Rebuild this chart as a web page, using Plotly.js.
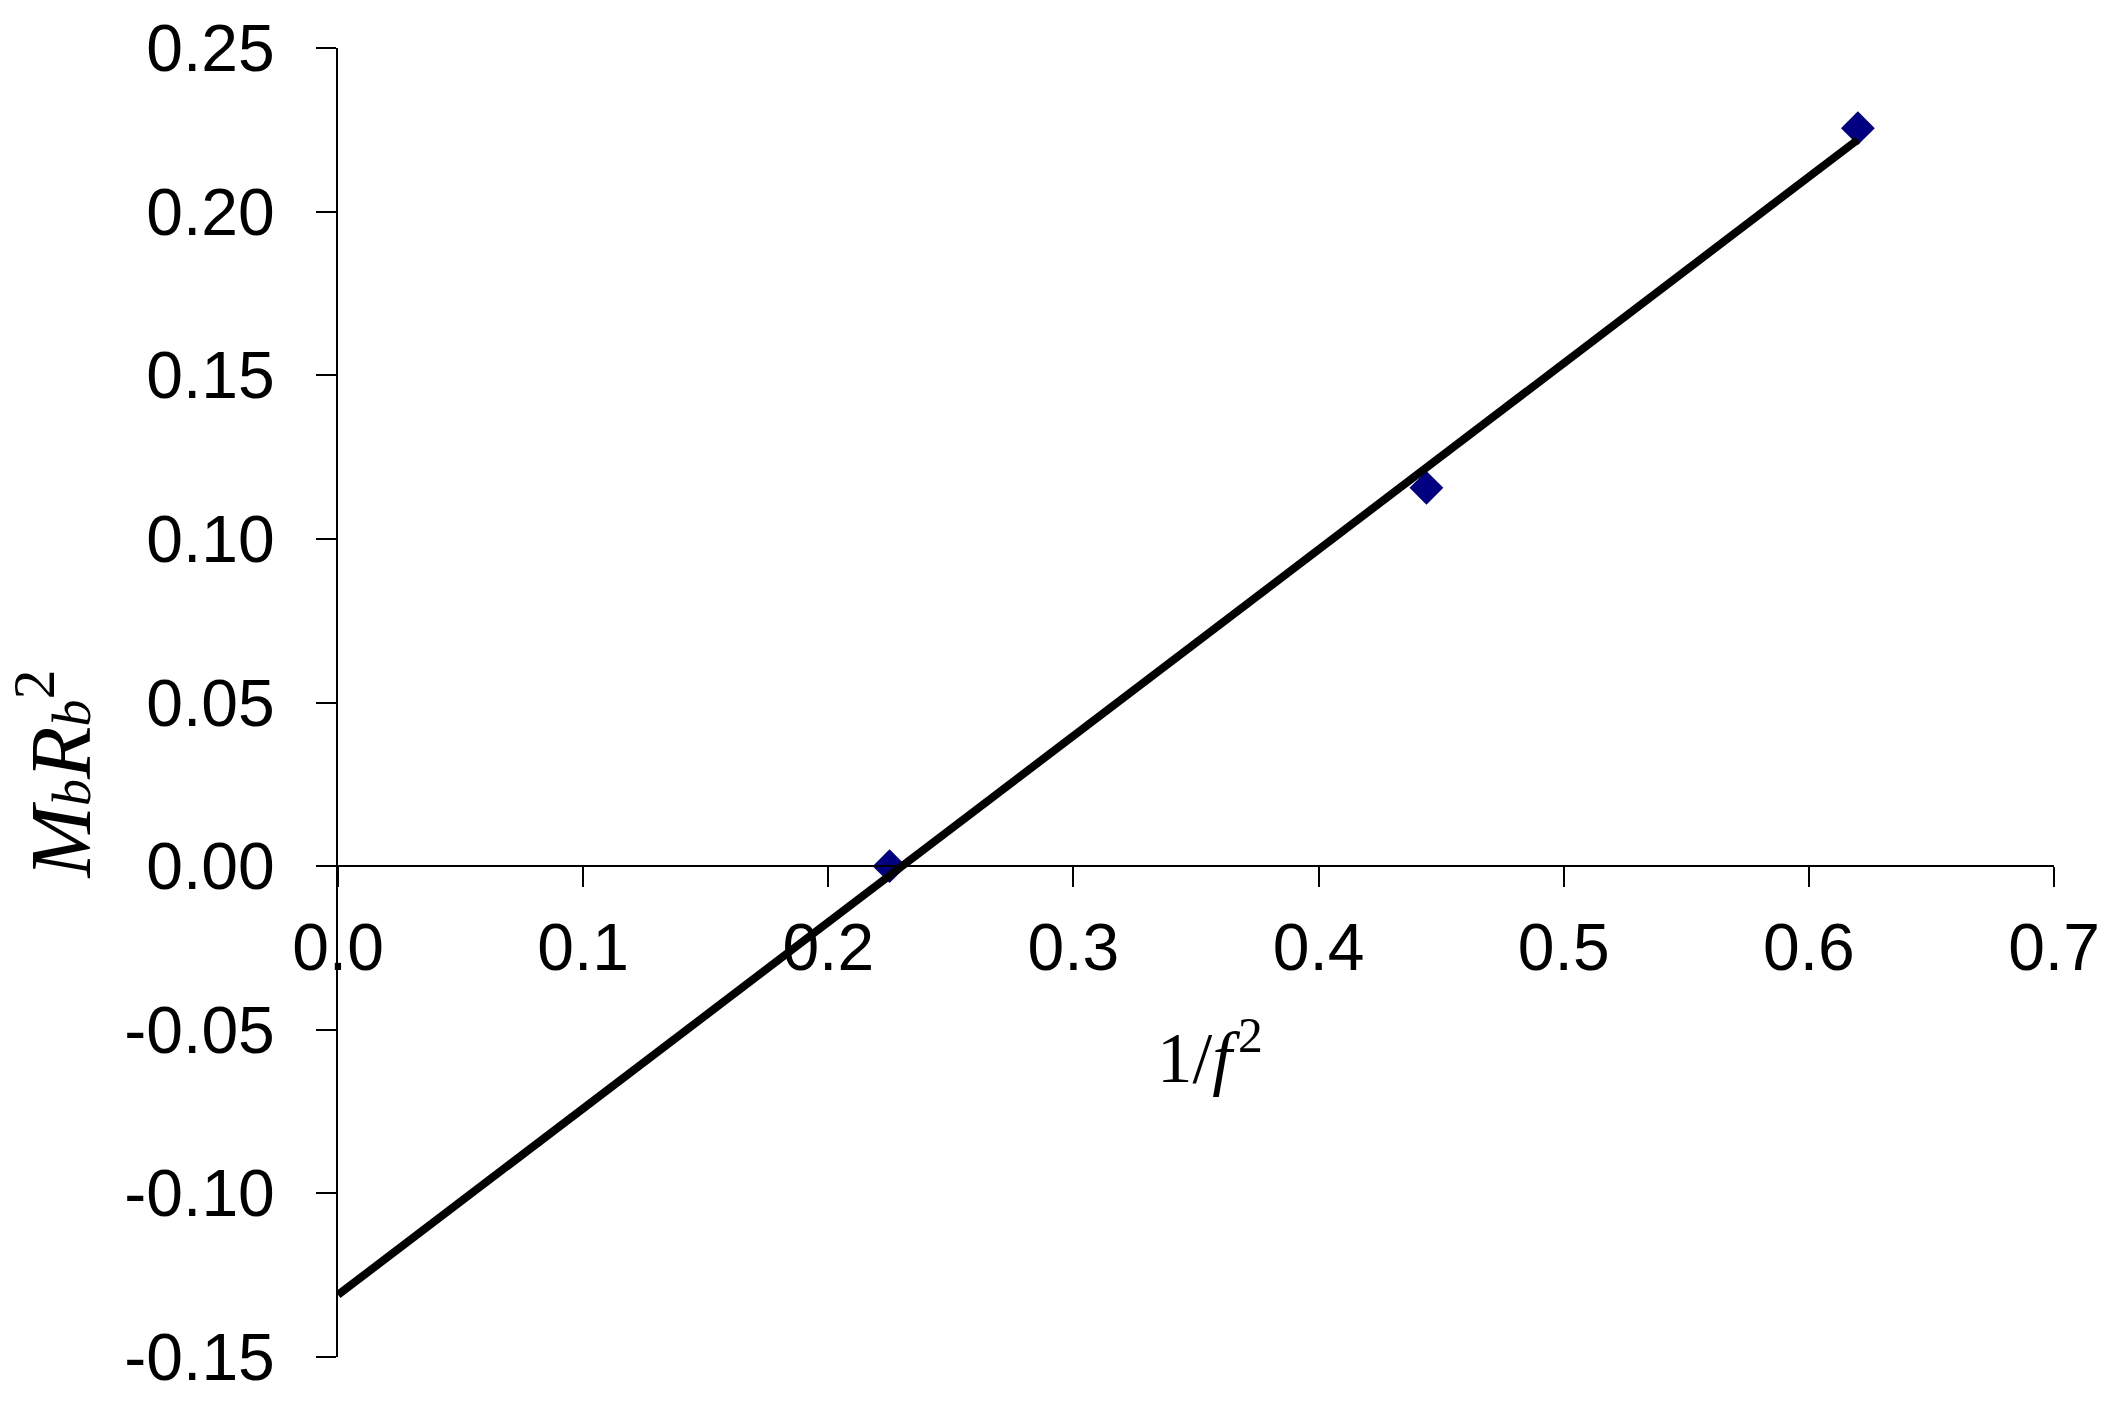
<!DOCTYPE html>
<html>
<head>
<meta charset="utf-8">
<script src="https://cdn.plot.ly/plotly-3.0.1.min.js"></script>
<style>
  html, body { margin: 0; padding: 0; background: #ffffff; }
  #plot { width: 2119px; height: 1412px; }
</style>
</head>
<body>
<div id="plot"></div>
<script>
// measured points, x = 1/f^2, y = Mb*Rb^2
let invF2 = [0.225, 0.444, 0.620];
let mbRb2 = [0.000, 0.1156, 0.2255];

// trendline ends
let trendX = [0.0, 0.620];
let trendY = [-0.131, 0.222];

// tick labels
let xTickVals = [0.0, 0.1, 0.2, 0.3, 0.4, 0.5, 0.6, 0.7];
let xTickText = ["0.0", "0.1", "0.2", "0.3", "0.4", "0.5", "0.6", "0.7"];
let yTickVals = [-0.15, -0.10, -0.05, 0.00, 0.05, 0.10, 0.15, 0.20, 0.25];
let yTickText = ["-0.15", "-0.10", "-0.05", "0.00", "0.05", "0.10", "0.15", "0.20", "0.25"];

let pointTrace = {
    x: invF2,
    y: mbRb2,
    mode: "markers",
    type: "scatter",
    marker: { symbol: "diamond", size: 26, color: "#000080", line: { width: 0 } },
    hoverinfo: "skip"
};

let lineTrace = {
    x: trendX,
    y: trendY,
    mode: "lines",
    type: "scatter",
    line: { color: "#000000", width: 8 },
    hoverinfo: "skip"
};

let tickFont = { family: "Liberation Sans, Arial, sans-serif", size: 66, color: "#000000" };
let titleFont = { family: "Liberation Serif, Times New Roman, serif", color: "#000000" };

let layout = {
    width: 2119,
    height: 1412,
    margin: { l: 338, r: 65, t: 48, b: 55 },
    paper_bgcolor: "#ffffff",
    plot_bgcolor: "#ffffff",
    showlegend: false,
    xaxis: {
        range: [0, 0.7],
        anchor: "free",
        position: 0.375,
        showline: true,
        linecolor: "#000000",
        linewidth: 2,
        ticks: "outside",
        ticklen: 20,
        tickwidth: 2,
        tickcolor: "#000000",
        tickvals: xTickVals,
        ticktext: xTickText,
        ticklabelstandoff: 4,
        tickfont: tickFont,
        showgrid: false,
        zeroline: false
    },
    yaxis: {
        range: [-0.15, 0.25],
        domain: [0, 1],
        showline: true,
        linecolor: "#000000",
        linewidth: 2,
        ticks: "outside",
        ticklen: 20,
        tickwidth: 2,
        tickcolor: "#000000",
        tickvals: yTickVals,
        ticktext: yTickText,
        ticklabelstandoff: 28,
        tickfont: tickFont,
        showgrid: false,
        zeroline: false
    },
    annotations: [
        {
            text: "1/<i>f</i>&#8202;<sup>2</sup>",
            xref: "paper", yref: "paper",
            x: 0.508, y: 0.233,
            xanchor: "center", yanchor: "middle",
            showarrow: false,
            font: Object.assign({ size: 71 }, titleFont)
        },
        {
            text: "<i>M<span style='font-size:54px'>b</span>R<span style='font-size:54px'>b</span></i><sup>2</sup>",
            xref: "paper", yref: "paper",
            x: -0.165, y: 0.4448,
            xanchor: "center", yanchor: "middle",
            textangle: -90,
            showarrow: false,
            font: Object.assign({ size: 86 }, titleFont)
        }
    ]
};

Plotly.newPlot("plot", [pointTrace, lineTrace], layout, { displayModeBar: false, staticPlot: true });
</script>
</body>
</html>
